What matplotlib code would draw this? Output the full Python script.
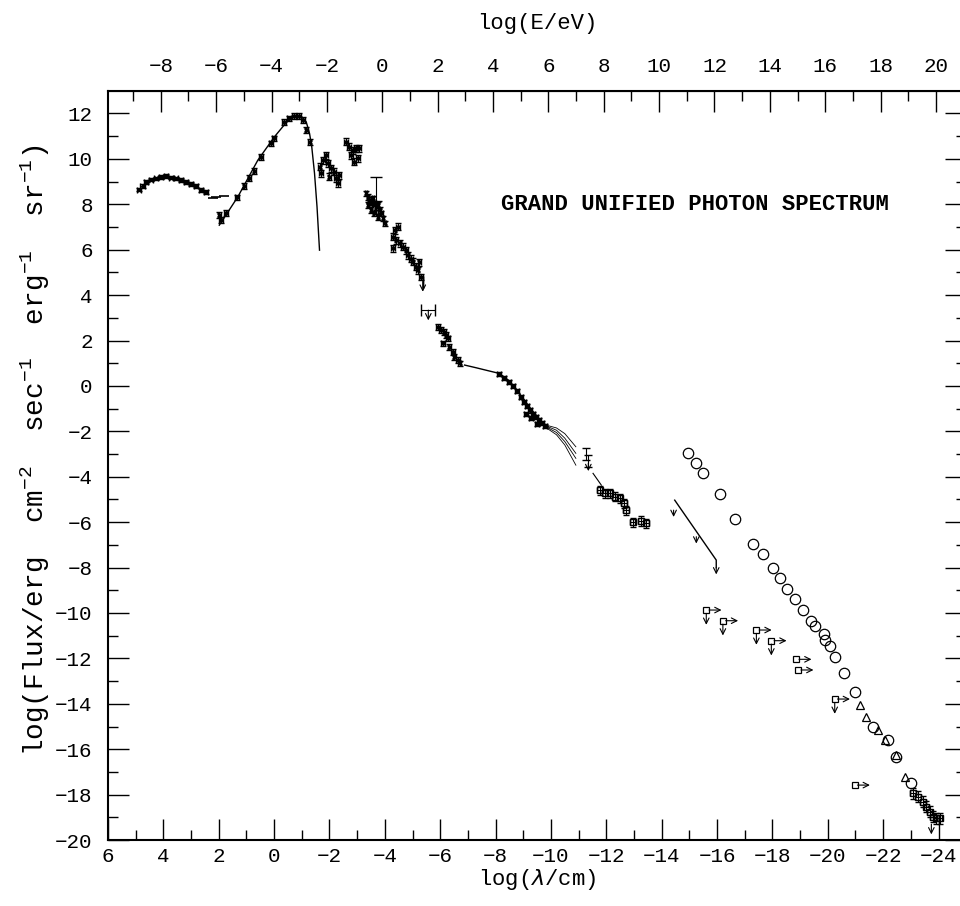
import numpy as np
import matplotlib
matplotlib.use('Agg')
import matplotlib.pyplot as plt

plt.rcParams['font.family'] = ['Liberation Mono', 'DejaVu Sans Mono']
plt.rcParams['mathtext.fontset'] = 'custom'
plt.rcParams['mathtext.rm'] = 'Liberation Mono'
plt.rcParams['axes.unicode_minus'] = True

# log10(h c / eV cm), converts log(lambda/cm) into log(E/eV)
LOG_HC = np.log10(1.2398e-4)

# radio background
radio_x = [4.87, 4.75, 4.63, 4.45, 4.27, 4.08, 3.90, 3.72, 3.54, 3.36, 3.18, 3.00, 2.82, 2.64, 2.46]
radio_y = [8.65, 8.80, 8.99, 9.09, 9.14, 9.21, 9.24, 9.18, 9.14, 9.06, 8.99, 8.89, 8.80, 8.62, 8.55]
radio_dash_x = [2.22, 2.10, 1.80]
radio_dash_y = [8.26, 8.30, 8.36]

# microwave background, blackbody curve and measurements
cmb_curve_x = [1.98, 1.31, 0.59, -0.01, -0.43, -0.73, -0.98, -1.16, -1.28, -1.36, -1.46, -1.55, -1.64]
cmb_curve_y = [7.08, 8.33, 9.94, 10.97, 11.59, 11.88, 11.88, 11.63, 11.12, 10.53, 9.36, 7.89, 5.98]
cmb_x = [1.98, 1.92, 1.74, 1.34, 1.08, 0.90, 0.72, 0.47, 0.11, 0.00, -0.36, -0.54, -0.72, -0.90,
         -1.04, -1.16, -1.28]
cmb_y = [7.52, 7.30, 7.61, 8.31, 8.80, 9.15, 9.46, 10.08, 10.69, 10.91, 11.62, 11.79, 11.88, 11.88,
         11.71, 11.27, 10.75]

# infrared
ir_x = [-1.64, -1.76, -1.88, -1.94, -2.06, -2.18, -2.24, -2.30, -2.36, -2.00, -1.70,
        -2.60, -2.72, -2.84, -2.96, -2.78, -2.90, -3.02, -3.08]
ir_y = [9.65, 9.94, 10.16, 9.80, 9.58, 9.43, 9.14, 8.92, 9.28, 9.21, 9.36,
        10.75, 10.53, 10.38, 10.46, 10.16, 9.87, 10.02, 10.46]

# optical and ultraviolet
opt_x = [-3.32, -3.39, -3.44, -3.50, -3.57, -3.62, -3.69, -3.75, -3.81, -3.87, -3.93, -3.99,
         -3.50, -3.62, -3.75, -3.39]
opt_y = [8.48, 8.33, 8.18, 8.11, 8.26, 8.04, 7.89, 7.96, 7.74, 7.60, 7.38, 7.16,
         7.74, 7.60, 7.45, 7.96]
opt_lim_x = -3.69
opt_lim_y = 8.15
opt_lim_top = 9.2

uv_x = [-4.29, -4.35, -4.41, -4.47, -4.53, -4.65, -4.77, -4.83, -4.95, -5.01, -5.13, -5.19,
        -5.25, -5.31, -4.29]
uv_y = [6.57, 6.86, 6.42, 7.01, 6.28, 6.13, 5.98, 5.76, 5.61, 5.47, 5.25, 5.10,
        5.45, 4.80, 6.06]
uv_lim_x = [-5.37, -5.57]
uv_lim_y = [4.60, 3.34]

# x-ray
xr_x = [-5.92, -6.03, -6.15, -6.22, -6.10, -6.33, -6.46, -6.51, -6.64, -6.70, -6.28]
xr_y = [2.60, 2.46, 2.38, 2.24, 1.87, 1.72, 1.50, 1.28, 1.14, 0.99, 2.09]

# x-ray background fit and data
xrb_curve_x = [-6.88, -7.30, -7.70, -8.14, -8.50, -8.90, -9.30, -9.65, -9.90]
xrb_curve_y = [0.92, 0.80, 0.68, 0.55, 0.22, -0.40, -1.05, -1.55, -1.80]
xrb_x = [-8.13, -8.31, -8.49, -8.64, -8.78, -8.93, -9.03, -9.14, -9.25, -9.36, -9.47, -9.58,
         -9.69, -9.80, -9.29, -9.50, -9.11]
xrb_y = [0.52, 0.35, 0.17, 0.00, -0.23, -0.49, -0.71, -0.89, -1.07, -1.24, -1.37, -1.50,
         -1.64, -1.77, -1.42, -1.68, -1.24]
# model extrapolations beyond the break
fan_x = [-9.90, -10.20, -10.50, -10.90]
fan_y = [[-1.75, -1.85, -2.10, -2.68],
         [-1.80, -1.95, -2.30, -2.97],
         [-1.85, -2.05, -2.45, -3.19],
         [-1.90, -2.15, -2.60, -3.49]]

# gamma-ray
gam_x = [-11.25, -11.35]
gam_y = [-3.00, -3.30]
gam_line_x = [-11.52, -11.82]
gam_line_y = [-3.85, -4.37]
hegam_x = [-11.76, -11.94, -12.12, -12.30, -12.48, -12.64, -12.72, -12.95, -13.25, -13.45]
hegam_y = [-4.59, -4.73, -4.73, -4.88, -4.95, -5.17, -5.48, -6.00, -5.95, -6.05]

# very high energy limits, line with arrows
vhe_line_x = [-14.47, -15.97, -15.97]
vhe_line_y = [-5.03, -7.67, -8.00]
vhe_arrow_x = [-14.43, -15.25, -15.97]
vhe_arrow_y = [-5.47, -6.64, -8.00]

# upper limits (open squares), with flags for a downward arrow
ul_x = [-15.61, -16.21, -17.42, -17.96, -18.86, -18.93, -20.25, -20.97]
ul_y = [-9.87, -10.34, -10.75, -11.22, -12.04, -12.51, -13.79, -17.58]
ul_down = [True, True, True, True, False, False, True, False]

# cosmic ray air shower estimates
circ_x = [-14.95, -15.25, -15.49, -16.09, -16.66, -17.30, -17.66, -18.02, -18.26, -18.54, -18.83,
          -19.11, -19.41, -19.53, -19.87, -19.91, -20.07, -20.25, -20.59, -20.97, -21.64,
          -22.18, -22.48, -23.02]
circ_y = [-2.94, -3.41, -3.85, -4.78, -5.88, -6.97, -7.41, -8.01, -8.48, -8.96, -9.40,
          -9.87, -10.34, -10.58, -10.93, -11.19, -11.46, -11.93, -12.63, -13.47, -15.04,
          -15.60, -16.33, -17.50]
tri_x = [-21.15, -21.39, -21.82, -22.06, -22.48, -22.78]
tri_y = [-14.05, -14.57, -15.15, -15.60, -16.26, -17.21]
uhe_x = [-23.08, -23.26, -23.44, -23.56, -23.68, -23.80, -23.92, -24.04]
uhe_y = [-17.94, -18.09, -18.31, -18.53, -18.75, -18.97, -19.04, -19.04]
uhe_lim_x = -23.74
uhe_lim_y = -19.30


def lam_to_e(l):
    return LOG_HC - l


def down_arrow(ax, x, y, length=0.6):
    ax.annotate('', xy=(x, y - length), xytext=(x, y),
                arrowprops=dict(arrowstyle='->', lw=0.8, color='k',
                                shrinkA=0, shrinkB=0))


def right_arrow(ax, x, y, length=0.45):
    ax.annotate('', xy=(x - length, y), xytext=(x, y),
                arrowprops=dict(arrowstyle='->', lw=0.8, color='k',
                                shrinkA=0, shrinkB=0))


fig = plt.figure(figsize=(9.6, 9.06), dpi=100)
# right spine sits just past the edge of the canvas
ax = fig.add_axes([0.1125, 0.0728, 0.894, 0.827])

pts = dict(fmt='x', color='k', ms=3.5, mew=1.0, elinewidth=0.8, capsize=2, capthick=0.8)

ax.errorbar(radio_x, radio_y, xerr=0.08, yerr=0.08, **pts)
ax.plot(radio_dash_x, radio_dash_y, '_', color='k', ms=7, mew=1.2)

ax.plot(cmb_curve_x, cmb_curve_y, '-', color='k', lw=1.0)
ax.errorbar(cmb_x, cmb_y, xerr=0.06, yerr=0.12, **pts)

ax.errorbar(ir_x, ir_y, xerr=0.07, yerr=0.15, **pts)
ax.errorbar(opt_x, opt_y, xerr=0.05, yerr=0.12, **pts)
ax.errorbar([opt_lim_x], [opt_lim_y], yerr=[[0], [opt_lim_top - opt_lim_y]],
            fmt='none', ecolor='k', elinewidth=0.8, capsize=4)
ax.errorbar(uv_x, uv_y, xerr=0.06, yerr=0.15, **pts)
for x, y in zip(uv_lim_x, uv_lim_y):
    ax.errorbar([x], [y], xerr=0.25 if y < 4 else 0.0, fmt='none', ecolor='k',
                elinewidth=0.8, capsize=4)
    down_arrow(ax, x, y, 0.45)

ax.errorbar(xr_x, xr_y, xerr=0.06, yerr=0.12, **pts)

ax.plot(xrb_curve_x, xrb_curve_y, '-', color='k', lw=1.0)
ax.errorbar(xrb_x, xrb_y, xerr=0.07, yerr=0.1, **pts)
for fy in fan_y:
    ax.plot(fan_x, fy, '-', color='k', lw=0.6)

ax.errorbar(gam_x, gam_y, yerr=0.25, fmt='none', ecolor='k', elinewidth=0.8, capsize=3)
down_arrow(ax, gam_x[1], gam_y[1] - 0.1, 0.35)
ax.plot(gam_line_x, gam_line_y, '-', color='k', lw=0.8)
ax.errorbar(hegam_x, hegam_y, xerr=0.1, yerr=0.2, fmt='s', mfc='none', mec='k',
            ms=5, ecolor='k', elinewidth=0.8, capsize=2)

ax.plot(vhe_line_x, vhe_line_y, '-', color='k', lw=1.0)
for x, y in zip(vhe_arrow_x, vhe_arrow_y):
    down_arrow(ax, x, y, 0.3)

ax.plot(ul_x, ul_y, 's', mfc='none', mec='k', ms=5, mew=0.9)
for x, y, d in zip(ul_x, ul_y, ul_down):
    right_arrow(ax, x - 0.1, y)
    if d:
        down_arrow(ax, x, y - 0.15, 0.5)

ax.plot(circ_x, circ_y, 'o', mfc='none', mec='k', ms=7.5, mew=0.9)
ax.plot(tri_x, tri_y, '^', mfc='none', mec='k', ms=6, mew=0.9)
ax.errorbar(uhe_x, uhe_y, xerr=0.1, yerr=0.25, fmt='s', mfc='none', mec='k', ms=4,
            ecolor='k', elinewidth=0.8, capsize=2)
down_arrow(ax, uhe_lim_x, uhe_lim_y, 0.45)

ax.text(-15.2, 8.0, 'GRAND UNIFIED PHOTON SPECTRUM', ha='center', va='center',
        fontsize=16, fontweight='bold')

ax.set_xlim(6, -25)
ax.set_ylim(-20, 13)
ax.set_xticks(np.arange(6, -25, -2))
ax.set_xticks(np.arange(6, -25, -1), minor=True)
ax.set_yticks(np.arange(-20, 13, 2))
ax.set_yticks(np.arange(-20, 13, 1), minor=True)
ax.tick_params(which='both', direction='in', top=False, right=True, width=1.0, labelsize=15)
ax.tick_params(which='major', length=15)
ax.tick_params(which='minor', length=7)
ax.tick_params(axis='x', pad=5)
ax.tick_params(axis='y', pad=11)
for s in ax.spines.values():
    s.set_linewidth(1.5)

ax.set_xlabel(r'log($\lambda$/cm)', fontsize=16, labelpad=1)
ax.set_ylabel(r'log(Flux/erg  cm$^{-2}$  sec$^{-1}$  erg$^{-1}$  sr$^{-1}$)', fontsize=20,
              labelpad=3)
ax.yaxis.set_label_coords(-0.065, 0.52)

top = ax.secondary_xaxis('top', functions=(lam_to_e, lam_to_e))
top.set_xticks(np.arange(-8, 21, 2))
top.set_xticks(np.arange(-9, 22, 1), minor=True)
top.tick_params(which='both', direction='in', labelsize=15, width=1.0, pad=11)
top.tick_params(which='major', length=15)
top.tick_params(which='minor', length=7)
top.set_xlabel('log(E/eV)', fontsize=16, labelpad=20)

plt.savefig('out.png', dpi=100)
